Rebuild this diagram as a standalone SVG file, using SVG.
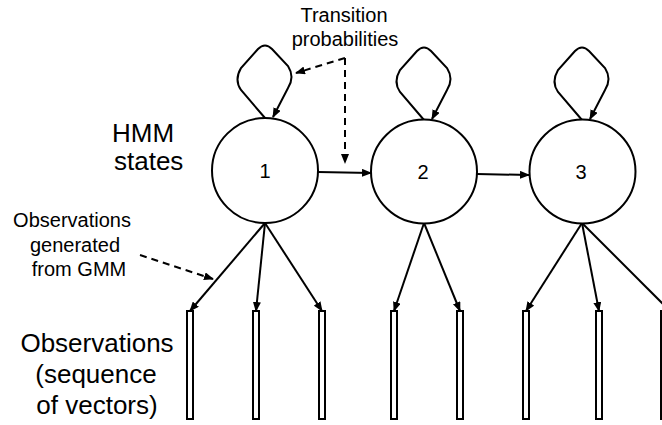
<svg xmlns="http://www.w3.org/2000/svg" width="662" height="425" viewBox="0 0 662 425">
<style>
.ln{fill:none;stroke:#000;stroke-width:2}
.dash{fill:none;stroke:#000;stroke-width:2;stroke-dasharray:7 5}
.st{fill:#fff;stroke:#000;stroke-width:2}
.obs{fill:#fff;stroke:#000;stroke-width:2}
.t{font-family:"Liberation Sans",Arial,sans-serif;fill:#000}
</style>
<defs>
<marker id="ah" markerWidth="10" markerHeight="8" refX="9" refY="4" orient="auto" markerUnits="userSpaceOnUse">
<path d="M0,0 L10,4 L0,8 Z" fill="#000"/>
</marker>
</defs>
<rect width="662" height="425" fill="#fff"/>
<g id="connectors">
<path class="ln" d="M265,118 L241,90 Q234,80 241,68 L258,49 Q265,42 272,49 L288,66 Q295,77 288,88 L273,117" marker-end="url(#ah)"/>
<path class="ln" d="M424,120 L400,92 Q393,82 400,70 L417,51 Q424,44 431,51 L447,68 Q454,79 447,90 L432,119" marker-end="url(#ah)"/>
<path class="ln" d="M582,120 L558,92 Q551,82 558,70 L575,51 Q582,44 589,51 L605,68 Q612,79 605,90 L590,119" marker-end="url(#ah)"/>
<line class="ln" x1="318" y1="172" x2="371" y2="173" marker-end="url(#ah)"/>
<line class="ln" x1="477" y1="174" x2="529" y2="175" marker-end="url(#ah)"/>
<line class="ln" x1="265" y1="223" x2="190" y2="311" marker-end="url(#ah)"/>
<line class="ln" x1="265" y1="223" x2="256" y2="311" marker-end="url(#ah)"/>
<line class="ln" x1="265" y1="223" x2="322" y2="311" marker-end="url(#ah)"/>
<line class="ln" x1="424" y1="223" x2="394" y2="311" marker-end="url(#ah)"/>
<line class="ln" x1="424" y1="223" x2="460" y2="311" marker-end="url(#ah)"/>
<line class="ln" x1="582" y1="223" x2="526" y2="311" marker-end="url(#ah)"/>
<line class="ln" x1="582" y1="223" x2="599" y2="311" marker-end="url(#ah)"/>
<line class="ln" x1="582" y1="223" x2="672" y2="313" marker-end="url(#ah)"/>
<polyline class="dash" points="345,58 296,73" marker-end="url(#ah)"/>
<polyline class="dash" points="345,58 345,163" marker-end="url(#ah)"/>
<line class="dash" x1="140" y1="255" x2="213" y2="279" marker-end="url(#ah)"/>
</g>
<g id="state1"><ellipse class="st" cx="265" cy="170.5" rx="53" ry="52.5"/><text class="t" x="265" y="178" font-size="20" text-anchor="middle">1</text></g>
<g id="state2"><ellipse class="st" cx="424" cy="171.5" rx="53" ry="52"/><text class="t" x="423" y="179" font-size="20" text-anchor="middle">2</text></g>
<g id="state3"><ellipse class="st" cx="582.5" cy="171.5" rx="53" ry="52"/><text class="t" x="581" y="179" font-size="20" text-anchor="middle">3</text></g>
<g id="obs1"><rect class="obs" x="187" y="311" width="6" height="108"/></g>
<g id="obs2"><rect class="obs" x="253" y="311" width="6" height="108"/></g>
<g id="obs3"><rect class="obs" x="319" y="311" width="6" height="108"/></g>
<g id="obs4"><rect class="obs" x="391" y="311" width="6" height="108"/></g>
<g id="obs5"><rect class="obs" x="457" y="311" width="6" height="108"/></g>
<g id="obs6"><rect class="obs" x="523" y="311" width="6" height="108"/></g>
<g id="obs7"><rect class="obs" x="596" y="311" width="6" height="108"/></g>
<g id="obs8"><rect class="obs" x="661" y="311" width="6" height="108"/></g>
<g id="label-transition"><text class="t" font-size="20" text-anchor="middle"><tspan x="344" y="22">Transition</tspan><tspan x="345" y="46">probabilities</tspan></text></g>
<g id="label-hmm"><text class="t" font-size="26" text-anchor="start"><tspan x="112" y="142">HMM</tspan><tspan x="114" y="170">states</tspan></text></g>
<g id="label-gen"><text class="t" font-size="20" text-anchor="middle"><tspan x="72" y="227">Observations</tspan><tspan x="75" y="252">generated</tspan><tspan x="79" y="276">from GMM</tspan></text></g>
<g id="label-obs"><text class="t" font-size="26" text-anchor="middle"><tspan x="97" y="352">Observations</tspan><tspan x="96" y="383">(sequence</tspan><tspan x="97" y="414">of vectors)</tspan></text></g>
</svg>
